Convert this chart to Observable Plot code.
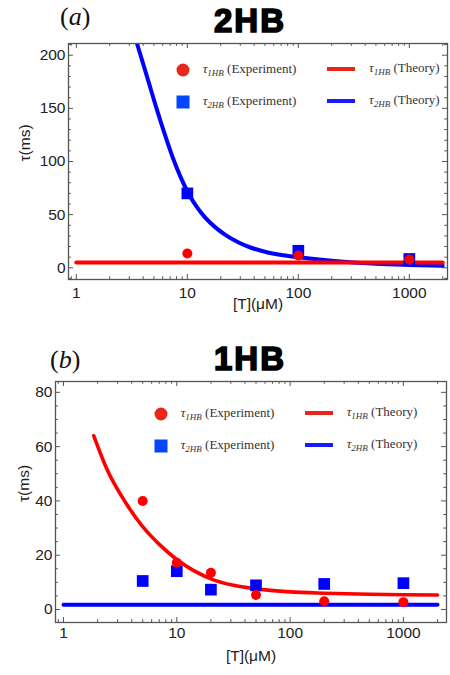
<!DOCTYPE html>
<html><head><meta charset="utf-8">
<script src="https://cdn.jsdelivr.net/npm/d3@7"></script>
<script src="https://cdn.jsdelivr.net/npm/@observablehq/plot@0.6"></script>
<style>
body{margin:0;width:450px;height:675px;position:relative;background:#fff;overflow:hidden}
.ptitle{font-family:"Liberation Sans",Arial,sans-serif;font-weight:bold;font-size:33px;letter-spacing:2px;-webkit-text-stroke:1.6px #000;color:#000;line-height:1;transform:translate(-50%,-50%);white-space:nowrap}
.tag{font-family:"Liberation Serif","Times New Roman",serif;font-size:26px;line-height:1;transform:translateY(-50%);color:#111;white-space:nowrap}
.leg{font-family:"Liberation Serif",serif;font-size:13px;color:#333;line-height:1;transform:translateY(-50%);white-space:nowrap}
.leg sub{font-size:9px;font-style:italic;vertical-align:-3px}
.sw{position:absolute;transform:translate(-50%,-50%)}
</style></head><body>
<script>
// ---------- data: panel (a) 2HB ----------
const xExpA = [10, 100, 1000];
const tau1ExpA = [13.5, 11.5, 7.8];
const tau2ExpA = [70, 16, 8.3];
const xTheory1A = [1, 2000];
const tau1TheoryA = [5, 5];
const xTheory2A = [3.52, 4.3, 5.33, 6.3, 7.43, 8.7, 10.3, 12.2, 14.5, 18, 22, 29, 37, 52, 73, 100, 200, 500, 1000, 2000];
const tau2TheoryA = [211, 181, 148.5, 124.7, 103, 85.3, 69.5, 57.1, 47.2, 37.8, 31, 23.8, 19.1, 14.7, 11.8, 9.9, 6.6, 3.8, 2.7, 1.9];

// ---------- data: panel (b) 1HB ----------
const xExpB = [5, 10, 20, 50, 200, 1000];
const tau1ExpB = [40, 17.2, 13.5, 5.3, 3, 2.7];
const tau2ExpB = [10.5, 14.1, 7.3, 8.9, 9.4, 9.7];
const xTheory1B = [1.85, 2.43, 3.52, 5, 7.08, 10, 14.1, 20, 31.6, 50, 100, 200, 500, 1000, 2000];
const tau1TheoryB = [64, 51.5, 39.5, 30.5, 23.8, 18.4, 14.3, 11.3, 8.9, 7.6, 6.5, 6.0, 5.6, 5.45, 5.35];
const xTheory2B = [1, 2000];
const tau2TheoryB = [1.7, 1.7];

// ---------- ticks / labels ----------
const xTicks = [1, 10, 100, 1000];
const xMinor = [0.9, 2, 3, 4, 5, 6, 7, 8, 9, 20, 30, 40, 50, 60, 70, 80, 90, 200, 300, 400, 500, 600, 700, 800, 900, 2000];
const yTicksA = [0, 50, 100, 150, 200];
const yMinorA = [-10, 10, 20, 30, 40, 60, 70, 80, 90, 110, 120, 130, 140, 160, 170, 180, 190, 210];
const yTicksB = [0, 20, 40, 60, 80];
const yMinorB = [5, 10, 15, 25, 30, 35, 45, 50, 55, 65, 70, 75];
const xLabel = "[T](μM)";
const yLabel = "τ(ms)";
const titles = ["2HB", "1HB"];

const RED = "#ff0000", BLUE = "#0000ff", FRAME = "#555";

const pts = (xs, ys) => xs.map((x, i) => ({x, y: ys[i]}));

function panel(o) {
  const width = 450;
  const fw = width - o.ml - o.mr, fh = o.height - o.mt - o.mb;
  const tk = {stroke: FRAME, strokeWidth: 1};
  return Plot.plot({
    width, height: o.height,
    marginTop: o.mt, marginBottom: o.mb, marginLeft: o.ml, marginRight: o.mr,
    x: {type: "log", domain: o.xDomain},
    y: {domain: o.yDomain},
    style: {fontFamily: "'Liberation Sans', Arial, sans-serif", fontSize: "15.5px", color: "#222", background: "#fff"},
    marks: [
      // inward ticks
      Plot.tickY(o.yTicks, {y: d => d, insetRight: fw - 5, ...tk}),
      Plot.tickY(o.yTicks, {y: d => d, insetLeft: fw - 5, ...tk}),
      Plot.tickY(o.yMinor, {y: d => d, insetRight: fw - 2.8, ...tk}),
      Plot.tickY(o.yMinor, {y: d => d, insetLeft: fw - 2.8, ...tk}),
      Plot.tickX(xTicks, {x: d => d, insetTop: fh - 5, ...tk}),
      Plot.tickX(xTicks, {x: d => d, insetBottom: fh - 5, ...tk}),
      Plot.tickX(xMinor, {x: d => d, insetTop: fh - 2.8, ...tk}),
      Plot.tickX(xMinor, {x: d => d, insetBottom: fh - 2.8, ...tk}),
      Plot.axisX({ticks: xTicks, tickFormat: d => String(d), tickSize: 0, tickPadding: o.xPad, label: null, fill: "#222"}),
      Plot.axisY({ticks: o.yTicks, tickFormat: d => String(d), tickSize: 0, tickPadding: 3, label: null, fill: "#222"}),
      Plot.text([xLabel], {frameAnchor: "bottom", dy: o.xLabelDy, fontSize: 15.5, fill: "#222"}),
      Plot.text([yLabel], {frameAnchor: "left", dx: o.yLabelDx, rotate: -90, fontSize: 15.5, fill: "#222"}),
      // theory lines
      ...o.lines.map(l => Plot.line(l.data, {x: "x", y: "y", stroke: l.color, strokeWidth: l.w, curve: "monotone-x", clip: true})),
      // experiments
      Plot.dot(o.squares, {x: "x", y: "y", symbol: "square", r: 6.6, fill: BLUE}),
      Plot.dot(o.circles, {x: "x", y: "y", symbol: "circle", r: 5, fill: RED}),
      Plot.frame({stroke: FRAME, strokeWidth: 1.3})
    ]
  });
}

function place(el, left, top) {
  el.style.position = "absolute"; el.style.left = left + "px"; el.style.top = top + "px";
  document.body.appendChild(el); return el;
}
function div(cls, html) { const d = document.createElement("div"); d.className = cls; d.innerHTML = html; return d; }

// panel (a)
const plotA = panel({
  height: 292, mt: 5, mb: 51, ml: 68, mr: 3,
  xDomain: [0.85, 2207], yDomain: [-11, 211],
  yTicks: yTicksA, yMinor: yMinorA, xPad: 7, xLabelDy: 29, yLabelDx: -43,
  lines: [{data: pts(xTheory2A, tau2TheoryA), color: BLUE, w: 4}, {data: pts(xTheory1A, tau1TheoryA), color: RED, w: 4}],
  squares: pts(xExpA, tau2ExpA), circles: pts(xExpA, tau1ExpA)
});
place(plotA, 0, 38);

// panel (b)
const plotB = panel({
  height: 299, mt: 5, mb: 53, ml: 55, mr: 4,
  xDomain: [0.85, 2400], yDomain: [-4.8, 84],
  yTicks: yTicksB, yMinor: yMinorB, xPad: 4, xLabelDy: 38, yLabelDx: -31,
  lines: [{data: pts(xTheory1B, tau1TheoryB), color: RED, w: 3.6}, {data: pts(xTheory2B, tau2TheoryB), color: BLUE, w: 4}],
  squares: pts(xExpB, tau2ExpB), circles: pts(xExpB, tau1ExpB)
});
place(plotB, 0, 376);

// titles
place(div("tag", "(<i>a</i>)"), 60, 17);
place(div("ptitle", titles[0]), 250, 20);
place(div("tag", "(<i>b</i>)"), 50, 360);
place(div("ptitle", titles[1]), 250, 358);

// legends
function legend(cx, y1, y2, lineX, textX2) {
  const expTxt = (n) => `<i>τ</i><sub>${n}HB</sub> (Experiment)`;
  const thTxt = (n) => `<i>τ</i><sub>${n}HB</sub> (Theory)`;
  const c = div("sw", ""); c.style.cssText += `width:13px;height:13px;border-radius:50%;background:#e8261a;`; place(c, cx, y1);
  const s = div("sw", ""); s.style.cssText += `width:13px;height:13px;background:#0047ff;`; place(s, cx, y2);
  place(div("leg", expTxt(1)), cx + 20, y1);
  place(div("leg", expTxt(2)), cx + 20, y2);
  const l1 = div("sw", ""); l1.style.cssText += `width:28px;height:4px;background:#e8261a;`; place(l1, lineX, y1 - 1.5);
  const l2 = div("sw", ""); l2.style.cssText += `width:28px;height:4px;background:#1a1aff;`; place(l2, lineX, y2 - 1.5);
  place(div("leg", thTxt(1)), textX2, y1 - 1.5);
  place(div("leg", thTxt(2)), textX2, y2 - 1.5);
}
legend(182.7, 70, 102, 341, 369);
legend(160.7, 414, 446, 319, 346.7);
</script>
</body></html>
